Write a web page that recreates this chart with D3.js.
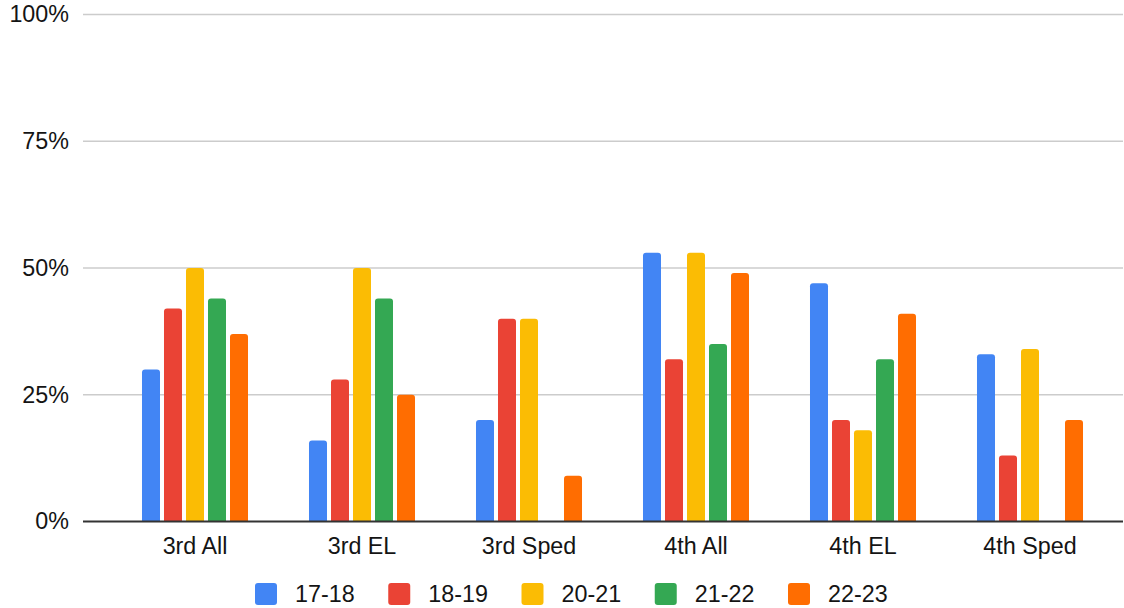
<!DOCTYPE html>
<html>
<head>
<meta charset="utf-8">
<script src="https://cdn.jsdelivr.net/npm/d3@7"></script>
<style>
  html, body { margin: 0; padding: 0; background: #fff; }
  svg { display: block; font-family: "Liberation Sans", Arial, sans-serif; }
</style>
</head>
<body>
<svg id="chart" width="1124" height="608"></svg>
<script>
// Proficiency rate by grade / student group, per school year
const categories = ["3rd All", "3rd EL", "3rd Sped", "4th All", "4th EL", "4th Sped"];
const seriesNames = ["17-18", "18-19", "20-21", "21-22", "22-23"];
const seriesColors = ["#4285F4", "#EA4335", "#FBBC04", "#34A853", "#FF6D01"];

const values1718 = [30, 16, 20, 53, 47, 33];
const values1819 = [42, 28, 40, 32, 20, 13];
const values2021 = [50, 50, 40, 53, 18, 34];
const values2122 = [44, 44, null, 35, 32, null];
const values2223 = [37, 25, 9, 49, 41, 20];

const seriesValues = [values1718, values1819, values2021, values2122, values2223];
const yTicks = [0, 0.25, 0.5, 0.75, 1];

const FONT = 23.3;
const TEXT_COLOR = "#141414";

const svg = d3.select("#chart");

const x0 = d3.scaleBand().domain(categories).range([111.5, 1113.5]).paddingInner(0).paddingOuter(0);
const x1 = d3.scaleBand().domain(seriesNames).range([0, x0.bandwidth()])
  .paddingInner(4 / 22).paddingOuter(1.386);
const y = d3.scaleLinear().domain([0, 1]).range([521.5, 14.5]);
const color = d3.scaleOrdinal().domain(seriesNames).range(seriesColors);

// gridlines
svg.append("g").selectAll("line").data(yTicks.filter(d => d > 0)).join("line")
  .attr("x1", 83).attr("x2", 1123)
  .attr("y1", d => y(d)).attr("y2", d => y(d))
  .attr("stroke", "#cccccc").attr("stroke-width", 1.6);

// y axis labels
const yAxis = d3.axisLeft(y).tickValues(yTicks).tickFormat(d3.format(".0%")).tickSize(0).tickPadding(0);
const yg = svg.append("g").attr("transform", "translate(69,0)").call(yAxis);
yg.select(".domain").remove();
yg.selectAll("text").attr("font-size", FONT).attr("fill", TEXT_COLOR).attr("font-family", "Liberation Sans, Arial, sans-serif");

// bars with rounded top corners
function barPath(x, yTop, w, yBase) {
  const r = Math.min(3, (yBase - yTop) / 2, w / 2);
  return `M${x},${yBase}V${yTop + r}Q${x},${yTop} ${x + r},${yTop}H${x + w - r}Q${x + w},${yTop} ${x + w},${yTop + r}V${yBase}Z`;
}

const rows = [];
categories.forEach((c, i) => {
  seriesNames.forEach((s, j) => {
    const v = seriesValues[j][i];
    if (v !== null && v !== undefined) rows.push({ c, s, v: v / 100 });
  });
});

svg.append("g").selectAll("path").data(rows).join("path")
  .attr("d", d => barPath(x0(d.c) + x1(d.s), y(d.v), x1.bandwidth(), y(0)))
  .attr("fill", d => color(d.s));

// baseline
svg.append("line").attr("x1", 83).attr("x2", 1123).attr("y1", y(0)).attr("y2", y(0))
  .attr("stroke", "#333").attr("stroke-width", 2);

// x axis labels
const xAxis = d3.axisBottom(x0).tickSize(0).tickPadding(0);
const xg = svg.append("g").attr("transform", "translate(0,537)").call(xAxis);
xg.select(".domain").remove();
xg.selectAll("text").attr("font-size", FONT).attr("fill", TEXT_COLOR).attr("dy", "0.71em")
  .attr("font-family", "Liberation Sans, Arial, sans-serif");

// legend
const legendX = d3.scalePoint().domain(seriesNames).range([255, 788]);
const lg = svg.append("g").selectAll("g").data(seriesNames).join("g")
  .attr("transform", d => `translate(${legendX(d)},583)`);
lg.append("rect").attr("width", 22).attr("height", 22).attr("rx", 3).attr("fill", d => color(d));
lg.append("text").attr("x", 40).attr("y", 11).attr("dy", "0.35em")
  .attr("font-size", FONT).attr("fill", TEXT_COLOR).text(d => d);
</script>
</body>
</html>
